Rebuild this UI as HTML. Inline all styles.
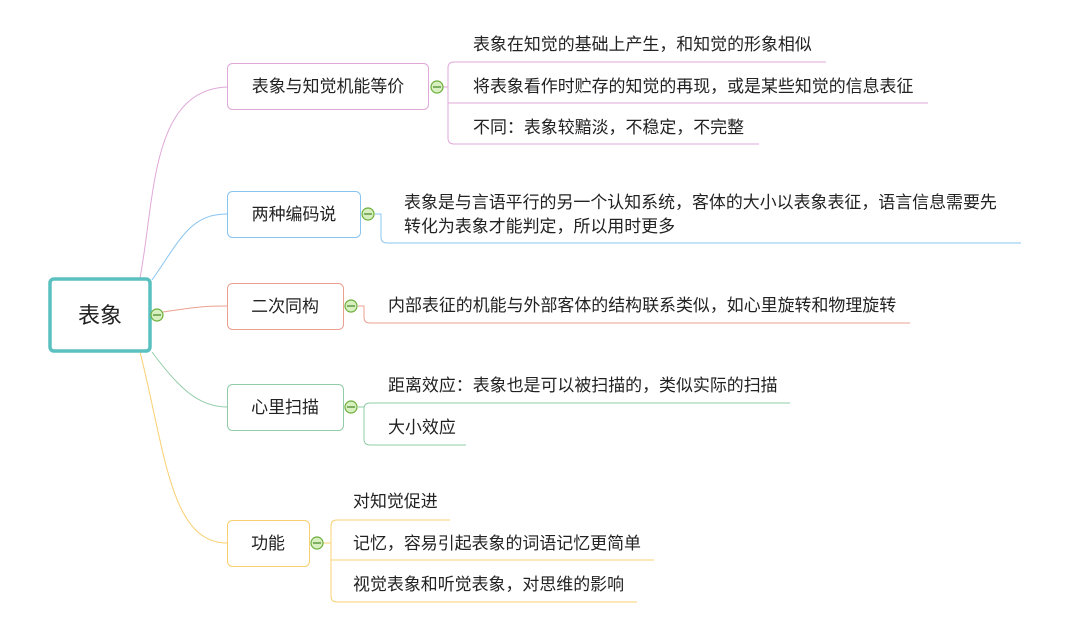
<!DOCTYPE html>
<html><head><meta charset="utf-8"><style>
html,body{margin:0;padding:0;background:#fff;}
svg text{font-family:"Liberation Sans","Noto Sans CJK SC",sans-serif;font-size:16.95px;fill:#222;}
</style></head><body>
<svg width="1066" height="629" xmlns="http://www.w3.org/2000/svg">
<g fill="none" stroke-width="1">
<path d="M140 278 C155 200,150 90,227 87" stroke="#e0a8d8"/>
<path d="M152 280 C180 240,190 214,227 214" stroke="#88c4f0"/>
<path d="M163 312 C190 308,200 306,227 306" stroke="#eba090"/>
<path d="M152 352 C180 390,200 407,227 407" stroke="#90cca8"/>
<path d="M140 352 C165 450,170 543,227 543" stroke="#f8d070"/>
<g stroke="#e0a8d8">
<path d="M443 87 H448"/>
<path d="M826 62 H454 Q448 62 448 68 V138 Q448 144 454 144 H759"/>
<path d="M448 103 H928"/>
</g>
<g stroke="#88c4f0"><path d="M375 214 H381 V237 Q381 243 387 243 H1021"/></g>
<g stroke="#eba090"><path d="M358 306 H364 V317 Q364 323 370 323 H910"/></g>
<g stroke="#90cca8"><path d="M358 407 H364"/><path d="M790 403 H370 Q364 403 364 409 V439 Q364 445 370 445 H466"/></g>
<g stroke="#f8d070"><path d="M323 543 H331"/><path d="M450 520 H337 Q331 520 331 526 V596 Q331 602 337 602 H637"/><path d="M331 560 H654"/></g>
</g>
<rect x="50" y="279" width="100" height="72" rx="4" fill="#fff" stroke="#5bc0c0" stroke-width="3.5"/>
<text x="100" y="323" text-anchor="middle" style="font-size:22px">表象</text>
<rect x="227.5" y="63.5" width="201" height="46" rx="5" fill="#fff" stroke="#e0a8d8"/>
<text x="328" y="92" text-anchor="middle">表象与知觉机能等价</text>
<rect x="227.5" y="191.5" width="133" height="46" rx="5" fill="#fff" stroke="#88c4f0"/>
<text x="294" y="220" text-anchor="middle">两种编码说</text>
<rect x="227.5" y="283.5" width="116" height="46" rx="5" fill="#fff" stroke="#eba090"/>
<text x="285" y="312" text-anchor="middle">二次同构</text>
<rect x="227.5" y="384.5" width="116" height="46" rx="5" fill="#fff" stroke="#90cca8"/>
<text x="285" y="413" text-anchor="middle">心里扫描</text>
<rect x="227.5" y="520.5" width="82" height="46" rx="5" fill="#fff" stroke="#f8d070"/>
<text x="268" y="549" text-anchor="middle">功能</text>
<g fill="#d8f0c0" stroke="#6aae3a" stroke-width="1.2">
<circle cx="157" cy="315" r="6"/><circle cx="437" cy="87" r="6"/><circle cx="368" cy="214" r="6"/>
<circle cx="351" cy="306" r="6"/><circle cx="351" cy="407" r="6"/><circle cx="317" cy="543" r="6"/>
</g>
<g stroke="#4a8a2a" stroke-width="1.2">
<path d="M153 315h8M433 87h8M364 214h8M347 306h8M347 407h8M313 543h8"/>
</g>
<text x="473" y="50">表象在知觉的基础上产生，和知觉的形象相似</text>
<text x="473" y="92">将表象看作时贮存的知觉的再现，或是某些知觉的信息表征</text>
<text x="473" y="133">不同：表象较黯淡，不稳定，不完整</text>
<text x="404" y="208">表象是与言语平行的另一个认知系统，客体的大小以表象表征，语言信息需要先</text>
<text x="404" y="232">转化为表象才能判定，所以用时更多</text>
<text x="388" y="311">内部表征的机能与外部客体的结构联系类似，如心里旋转和物理旋转</text>
<text x="388" y="391">距离效应：表象也是可以被扫描的，类似实际的扫描</text>
<text x="388" y="433">大小效应</text>
<text x="353" y="507">对知觉促进</text>
<text x="353" y="549">记忆，容易引起表象的词语记忆更简单</text>
<text x="353" y="590">视觉表象和听觉表象，对思维的影响</text>
</svg>
</body></html>
